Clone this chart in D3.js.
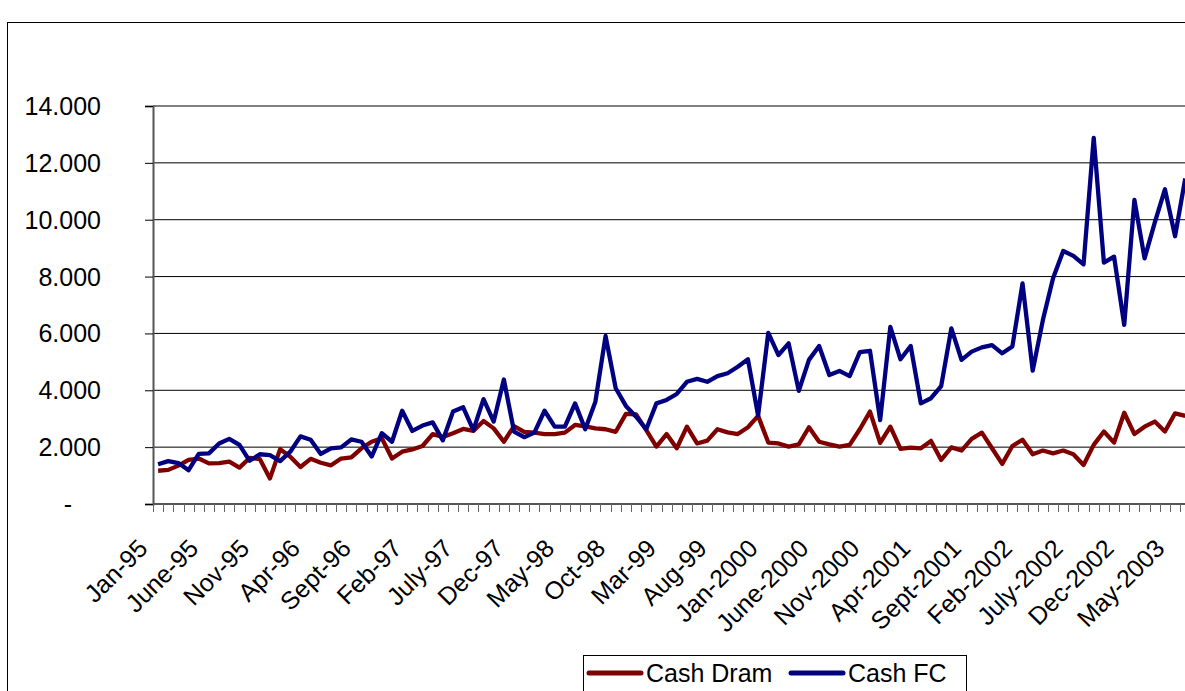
<!DOCTYPE html>
<html>
<head>
<meta charset="utf-8">
<script src="https://cdn.jsdelivr.net/npm/d3@7"></script>
<style>
	html, body { margin: 0; padding: 0; background: #fff; overflow: hidden; }
	svg { display: block; font-family: "Liberation Sans", Arial, sans-serif; }
</style>
</head>
<body>
<div id="chart"></div>
<script>
// month names and years used for the category axis (Jan-95 .. June-2003)
const monthNames = ['Jan', 'Feb', 'Mar', 'Apr', 'May', 'June', 'July', 'Aug', 'Sept', 'Oct', 'Nov', 'Dec'];
const yearLabels = ['95', '96', '97', '98', '99', '2000', '2001', '2002', '2003'];

const cashDram = [
	1170, 1200, 1350, 1550, 1600, 1430, 1440, 1490, 1280, 1620, 1580, 900,
	1930, 1660, 1300, 1590, 1450, 1360, 1600, 1640, 1960, 2190, 2310, 1600,
	1840, 1920, 2040, 2460, 2360, 2490, 2640, 2570, 2920, 2660, 2190, 2740,
	2540, 2510, 2460, 2460, 2510, 2780, 2730, 2660, 2630, 2540, 3170, 3150,
	2600, 2020, 2460, 1960, 2720, 2130, 2230, 2630, 2520, 2460, 2700, 3100,
	2160, 2130, 2020, 2100, 2700, 2190, 2100, 2020, 2080, 2630, 3250, 2150,
	2720, 1940, 1980, 1960, 2220, 1550, 1990, 1880, 2290, 2510, 1960, 1410,
	2040, 2260, 1750, 1880, 1780, 1880, 1750, 1370, 2080, 2550, 2160, 3210,
	2460, 2720, 2900, 2550, 3190, 3100
];

const cashFC = [
	1400, 1510, 1440, 1190, 1760, 1780, 2130, 2290, 2080, 1520, 1750, 1720,
	1510, 1840, 2380, 2260, 1760, 1960, 1990, 2270, 2190, 1670, 2490, 2190,
	3280, 2570, 2760, 2870, 2240, 3250, 3400, 2600, 3690, 2900, 4380, 2550,
	2350, 2510, 3280, 2720, 2720, 3540, 2630, 3600, 5910, 4070, 3450, 3070,
	2630, 3540, 3660, 3870, 4300, 4400, 4300, 4500, 4600, 4830, 5090, 3110,
	6020, 5240, 5650, 3980, 5070, 5560, 4540, 4680, 4500, 5340, 5390, 2950,
	6230, 5090, 5560, 3540, 3720, 4150, 6180, 5070, 5360, 5510, 5590, 5300,
	5540, 7760, 4690, 6470, 7940, 8900, 8730, 8430, 12880, 8490, 8700, 6300,
	10700, 8640, 9900, 11070, 9420, 11450
];

const yTicks = [0, 2000, 4000, 6000, 8000, 10000, 12000, 14000];
const yTickLabels = ['-', '2.000', '4.000', '6.000', '8.000', '10.000', '12.000', '14.000'];

const seriesNames = ['Cash Dram', 'Cash FC'];
const seriesColors = ['#800000', '#000080'];

// build the month categories
var categories = [];
yearLabels.forEach(function (yr) {
	monthNames.forEach(function (m) {
		if (categories.length < cashFC.length) categories.push(m + '-' + yr);
	});
});

var width = 1185, height = 691;
var margins = { left: 153, top: 106, bottom: 504 };
var step = 10.17;

var svg = d3.select('#chart').append('svg')
	.attr('width', width)
	.attr('height', height);

// chart area frame (runs off the right and bottom edge)
svg.append('rect')
	.attr('x', 7.5).attr('y', 22.5)
	.attr('width', width + 20).attr('height', height + 20)
	.attr('fill', '#fff').attr('stroke', '#000').attr('stroke-width', 1);

var x = d3.scaleBand()
	.domain(categories)
	.range([margins.left, margins.left + step * categories.length])
	.paddingInner(0).paddingOuter(0);

var y = d3.scaleLinear()
	.domain([0, 14000])
	.range([margins.bottom, margins.top]);

var plotRight = margins.left + step * categories.length;

// gridlines
svg.append('g').attr('class', 'grid')
	.selectAll('line').data(yTicks.slice(1, -1))
	.enter().append('line')
	.attr('x1', margins.left).attr('x2', plotRight)
	.attr('y1', function (d) { return y(d); })
	.attr('y2', function (d) { return y(d); })
	.attr('stroke', '#000').attr('stroke-width', 1);

// plot area border (top)
svg.append('line')
	.attr('x1', margins.left).attr('x2', plotRight)
	.attr('y1', y(14000)).attr('y2', y(14000))
	.attr('stroke', '#808080').attr('stroke-width', 2);

// y axis
var yAxis = d3.axisLeft(y)
	.tickValues(yTicks)
	.tickSize(8)
	.tickPadding(0)
	.tickFormat(function (d, i) { return ''; });

var yAxisG = svg.append('g')
	.attr('transform', 'translate(' + margins.left + ',0)')
	.call(yAxis);
yAxisG.select('.domain').attr('stroke', '#555').attr('stroke-width', 2);
yAxisG.selectAll('.tick line').attr('stroke', '#000');

svg.append('g').attr('class', 'ylabels')
	.selectAll('text').data(yTicks)
	.enter().append('text')
	.attr('x', function (d) { return d === 0 ? 72 : 101; })
	.attr('y', function (d) { return y(d); })
	.attr('dy', '0.36em')
	.attr('text-anchor', 'end')
	.attr('font-size', 25)
	.attr('fill', '#000')
	.text(function (d, i) { return yTickLabels[i]; });

// x axis: ticks on every month boundary
var boundaries = d3.range(categories.length + 1);
var xAxisG = svg.append('g').attr('class', 'xaxis');
xAxisG.append('line')
	.attr('x1', margins.left).attr('x2', plotRight)
	.attr('y1', margins.bottom).attr('y2', margins.bottom)
	.attr('stroke', '#555').attr('stroke-width', 2);
xAxisG.selectAll('.xtick').data(boundaries)
	.enter().append('line')
	.attr('class', 'xtick')
	.attr('x1', function (d) { return Math.round(margins.left + d * x.step()) + 0.5; })
	.attr('x2', function (d) { return Math.round(margins.left + d * x.step()) + 0.5; })
	.attr('y1', margins.bottom).attr('y2', margins.bottom + 8)
	.attr('stroke', '#666').attr('stroke-width', 1);

// rotated month labels, every fifth month
xAxisG.selectAll('.xlabel').data(categories.filter(function (d, i) { return i % 5 === 0; }))
	.enter().append('text')
	.attr('class', 'xlabel')
	.attr('font-size', 25)
	.attr('text-anchor', 'end')
	.attr('transform', function (d) {
		var cx = x(d) + x.bandwidth() / 2;
		return 'translate(' + (cx - 9) + ',' + 550 + ') rotate(-45)';
	})
	.text(function (d) { return d; });

// lines
var lineFn = d3.line()
	.x(function (d, i) { return x(categories[i]) + x.bandwidth() / 2; })
	.y(function (d) { return y(d); });

[cashDram, cashFC].forEach(function (series, k) {
	svg.append('path')
		.attr('class', 'line')
		.attr('fill', 'none')
		.attr('stroke', seriesColors[k])
		.attr('stroke-width', 4.3)
		.attr('stroke-linejoin', 'round')
		.attr('d', lineFn(series));
});

// legend
var legend = svg.append('g').attr('class', 'legend');
legend.append('rect')
	.attr('x', 583.5).attr('y', 655.5)
	.attr('width', 383).attr('height', 60)
	.attr('fill', '#fff').attr('stroke', '#000').attr('stroke-width', 1);

var legendX = [589, 791];
seriesNames.forEach(function (name, k) {
	legend.append('line')
		.attr('x1', legendX[k]).attr('x2', legendX[k] + 52)
		.attr('y1', 673).attr('y2', 673)
		.attr('stroke', seriesColors[k]).attr('stroke-width', 5)
		.attr('stroke-linecap', 'round');
	legend.append('text')
		.attr('x', legendX[k] + 57).attr('y', 682)
		.attr('font-size', 25)
		.text(name);
});
</script>
</body>
</html>
